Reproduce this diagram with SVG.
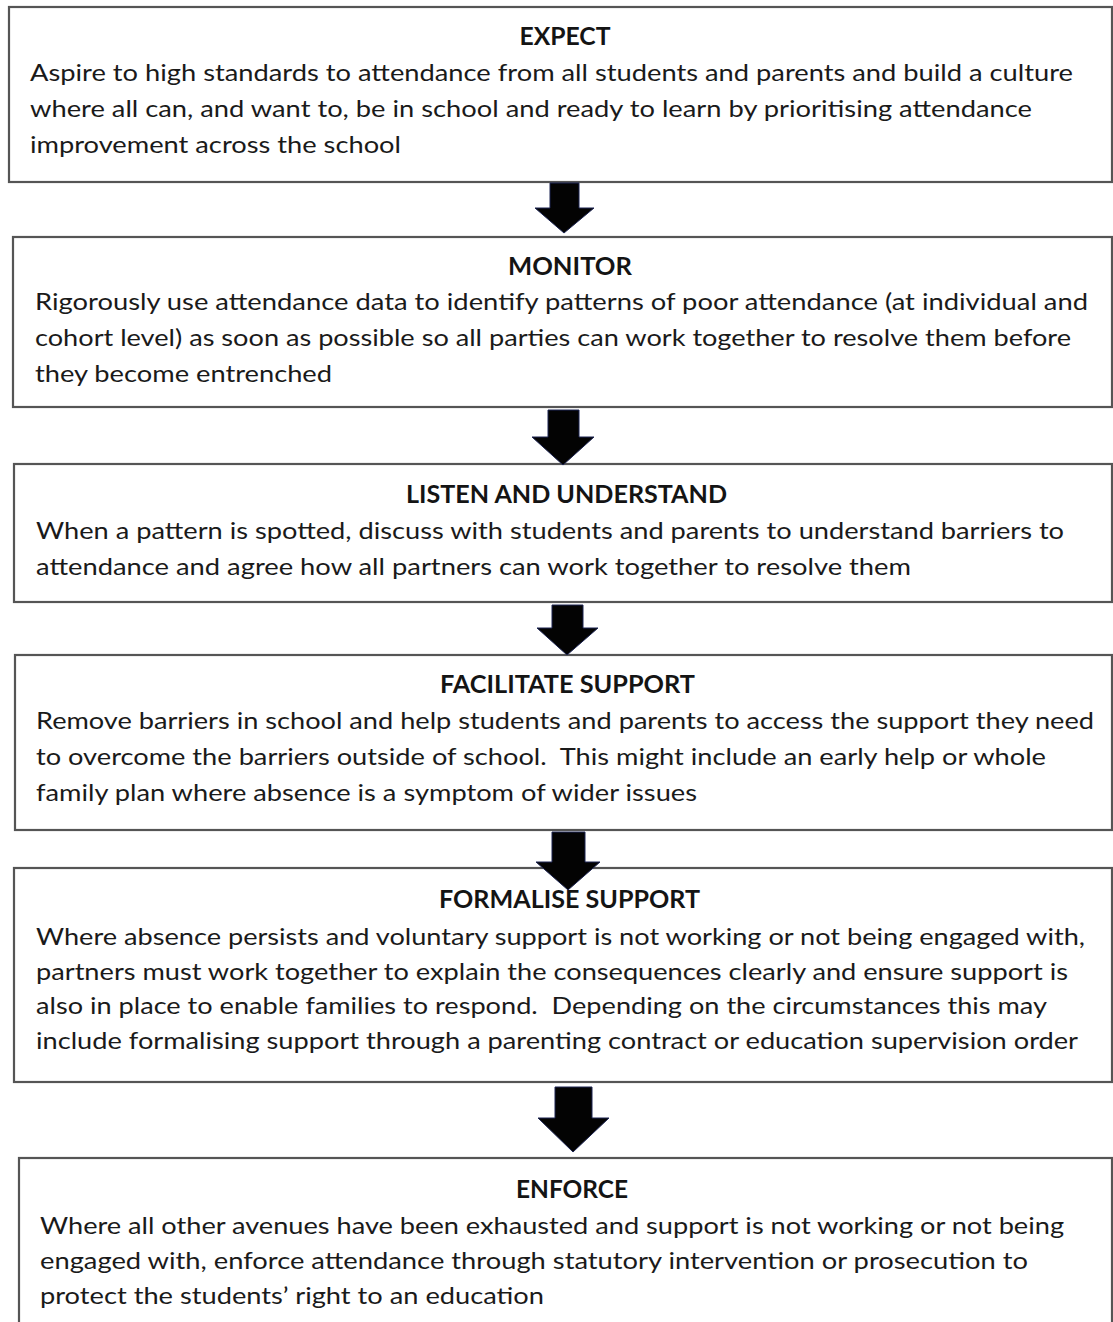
<svg xmlns="http://www.w3.org/2000/svg" width="1113" height="1322" viewBox="0 0 1113 1322">
<style>
.box{fill:#fff;stroke:#555;stroke-width:2.2}
.t{font-family:Lato,"Open Sans","Liberation Sans",sans-serif;font-weight:700;font-size:24px;fill:#141414;text-anchor:middle}
.b{font-family:Lato,"Open Sans","Liberation Sans",sans-serif;font-size:24px;fill:#1a1a1a}
.arr{fill:#030303;stroke:#1c2452;stroke-width:1}
</style>
<rect width="1113" height="1322" fill="#fff"/>
<g id="expect">
<rect class="box" x="9" y="7" width="1103" height="175"/>
<text class="t" x="565" y="45" textLength="91" lengthAdjust="spacingAndGlyphs">EXPECT</text>
<text class="b" x="30" y="81" textLength="1043" lengthAdjust="spacingAndGlyphs">Aspire to high standards to attendance from all students and parents and build a culture</text>
<text class="b" x="30" y="117" textLength="1002" lengthAdjust="spacingAndGlyphs">where all can, and want to, be in school and ready to learn by prioritising attendance</text>
<text class="b" x="30" y="153" textLength="371" lengthAdjust="spacingAndGlyphs">improvement across the school</text>
</g>
<g id="monitor">
<rect class="box" x="13" y="237" width="1099" height="170"/>
<text class="t" x="570" y="275" textLength="124" lengthAdjust="spacingAndGlyphs">MONITOR</text>
<text class="b" x="35" y="310" textLength="1053" lengthAdjust="spacingAndGlyphs">Rigorously use attendance data to identify patterns of poor attendance (at individual and</text>
<text class="b" x="35" y="346" textLength="1036" lengthAdjust="spacingAndGlyphs">cohort level) as soon as possible so all parties can work together to resolve them before</text>
<text class="b" x="35" y="382" textLength="297" lengthAdjust="spacingAndGlyphs">they become entrenched</text>
</g>
<g id="listen">
<rect class="box" x="14" y="464" width="1098" height="138"/>
<text class="t" x="566.5" y="503" textLength="321" lengthAdjust="spacingAndGlyphs">LISTEN AND UNDERSTAND</text>
<text class="b" x="36" y="539" textLength="1028" lengthAdjust="spacingAndGlyphs">When a pattern is spotted, discuss with students and parents to understand barriers to</text>
<text class="b" x="36" y="575" textLength="875" lengthAdjust="spacingAndGlyphs">attendance and agree how all partners can work together to resolve them</text>
</g>
<g id="facilitate">
<rect class="box" x="15" y="655" width="1097" height="175"/>
<text class="t" x="567.5" y="693" textLength="255" lengthAdjust="spacingAndGlyphs">FACILITATE SUPPORT</text>
<text class="b" x="36" y="729" textLength="1058" lengthAdjust="spacingAndGlyphs">Remove barriers in school and help students and parents to access the support they need</text>
<text class="b" x="36" y="765" textLength="1010" lengthAdjust="spacingAndGlyphs" xml:space="preserve">to overcome the barriers outside of school.  This might include an early help or whole</text>
<text class="b" x="36" y="801" textLength="661" lengthAdjust="spacingAndGlyphs">family plan where absence is a symptom of wider issues</text>
</g>
<g id="formalise">
<rect class="box" x="14" y="868" width="1098" height="214"/>
<text class="t" x="569.5" y="908" textLength="261" lengthAdjust="spacingAndGlyphs">FORMALISE SUPPORT</text>
<text class="b" x="36" y="945" textLength="1049" lengthAdjust="spacingAndGlyphs">Where absence persists and voluntary support is not working or not being engaged with,</text>
<text class="b" x="36" y="980" textLength="1032" lengthAdjust="spacingAndGlyphs">partners must work together to explain the consequences clearly and ensure support is</text>
<text class="b" x="36" y="1014" textLength="1011" lengthAdjust="spacingAndGlyphs" xml:space="preserve">also in place to enable families to respond.  Depending on the circumstances this may</text>
<text class="b" x="36" y="1049" textLength="1042" lengthAdjust="spacingAndGlyphs">include formalising support through a parenting contract or education supervision order</text>
</g>
<g id="enforce">
<rect class="box" x="19" y="1158" width="1093" height="190"/>
<text class="t" x="572" y="1198" textLength="112" lengthAdjust="spacingAndGlyphs">ENFORCE</text>
<text class="b" x="40" y="1234" textLength="1024" lengthAdjust="spacingAndGlyphs">Where all other avenues have been exhausted and support is not working or not being</text>
<text class="b" x="40" y="1269" textLength="988" lengthAdjust="spacingAndGlyphs">engaged with, enforce attendance through statutory intervention or prosecution to</text>
<text class="b" x="40" y="1304" textLength="504" lengthAdjust="spacingAndGlyphs">protect the students’ right to an education</text>
</g>
<g id="connectors">
<polygon class="arr" points="550,183 579,183 579,208 594,208 564,233 535,208 550,208"/>
<polygon class="arr" points="548,410 579,410 579,437 594,437 563,465 532,437 548,437"/>
<polygon class="arr" points="552,605 583,605 583,628 598,628 567,655 537,628 552,628"/>
<polygon class="arr" points="552,832 585,832 585,862 600,862 568,890 536,862 552,862"/>
<polygon class="arr" points="555,1087 592,1087 592,1118 609,1118 573,1152 538,1118 555,1118"/>
</g>
</svg>
